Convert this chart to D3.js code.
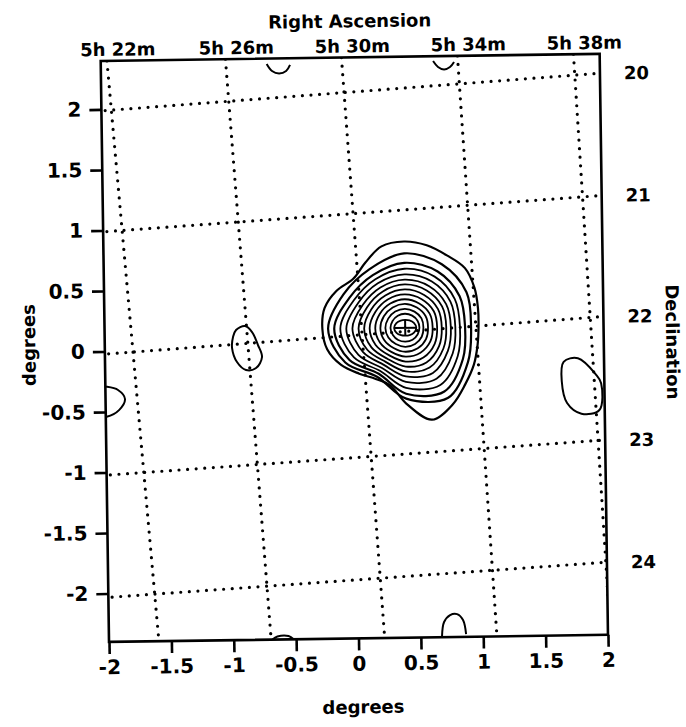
<!DOCTYPE html>
<html>
<head>
<meta charset="utf-8">
<script src="https://cdn.jsdelivr.net/npm/d3@7"></script>
<style>
body { margin: 0; background: #fff; }
text { font-family: "DejaVu Sans", sans-serif; font-weight: bold; fill: #000; }
</style>
</head>
<body>
<svg id="chart"></svg>
<script>
// axis ticks (degrees)
var xTicks = [-2, -1.5, -1, -0.5, 0, 0.5, 1, 1.5, 2];
var yTicks = [-2, -1.5, -1, -0.5, 0, 0.5, 1, 1.5, 2];

// right ascension grid: x in degrees where each line meets top / bottom of frame
var raLabels = ["5h 22m", "5h 26m", "5h 30m", "5h 34m", "5h 38m"];
var raTop = [-1.95, -1.00, -0.07, 0.86, 1.79];
var raBottom = [-1.60, -0.70, 0.21, 1.11, 2.02];

// declination grid: y in degrees where each line meets left / right of frame
var decLabels = ["20", "21", "22", "23", "24"];
var decLeft = [1.99, 0.99, -0.02, -1.02, -2.03];
var decRight = [2.24, 1.23, 0.23, -0.79, -1.80];

// source peak and its nested contours, radius in degrees read counterclockwise from east
var peak = [0.41, 0.16];
var rings = [
  [.089, .081, .070, .065, .070, .081, .089, .081, .070, .065, .070, .081],
  [.114, .115, .115, .116, .116, .116, .118, .115, .115, .114, .115, .114],
  [.146, .152, .153, .157, .156, .156, .159, .157, .154, .157, .155, .152],
  [.183, .190, .192, .198, .196, .196, .199, .196, .191, .198, .197, .191],
  [.220, .228, .230, .236, .233, .234, .240, .236, .228, .238, .239, .231],
  [.256, .267, .271, .276, .273, .273, .285, .276, .261, .279, .285, .271],
  [.293, .305, .311, .317, .311, .312, .329, .315, .293, .320, .333, .311],
  [.329, .344, .353, .358, .350, .350, .374, .354, .322, .360, .382, .351],
  [.366, .382, .394, .398, .388, .389, .423, .393, .351, .401, .434, .392],
  [.402, .422, .438, .441, .428, .429, .472, .436, .381, .447, .490, .436],
  [.439, .463, .484, .488, .467, .470, .520, .478, .409, .496, .550, .482],
  [.480, .508, .533, .537, .507, .511, .569, .520, .435, .545, .613, .530],
  [.528, .572, .601, .615, .563, .567, .618, .559, .463, .585, .673, .577],
  [.588, .606, .646, .687, .685, .703, .713, .699, .626, .581, .630, .667,
   .664, .650, .598, .528, .484, .490, .626, .789, .740, .671, .630, .598]
];

// small contours elsewhere in the field (x, y in degrees)
var blobs = [
  {closed: true, pts: [[-0.946, 0.162], [-0.874, 0.193], [-0.818, 0.143], [-0.772, 0.035], [-0.741, -0.064],
                       [-0.790, -0.155], [-0.871, -0.170], [-0.942, -0.103], [-0.980, 0.013], [-0.971, 0.104]]},
  {closed: true, pts: [[-2.05, -0.29], [-1.989, -0.292], [-1.899, -0.320], [-1.844, -0.395], [-1.893, -0.486],
                       [-1.993, -0.540], [-2.05, -0.54]]},
  {closed: true, pts: [[1.676, -0.140], [1.791, -0.112], [1.932, -0.247], [1.974, -0.321], [1.957, -0.542],
                       [1.813, -0.570], [1.699, -0.480], [1.659, -0.302]]},
  {closed: false, pts: [[-0.670, 2.356], [-0.628, 2.297], [-0.572, 2.276], [-0.515, 2.295], [-0.483, 2.345]]},
  {closed: false, pts: [[0.664, 2.361], [0.703, 2.311], [0.751, 2.289], [0.799, 2.309], [0.832, 2.350]]},
  {closed: false, pts: [[0.670, -2.391], [0.688, -2.275], [0.737, -2.218], [0.793, -2.211], [0.840, -2.261], [0.863, -2.377]]},
  {closed: false, pts: [[-0.69, -2.40], [-0.65, -2.375], [-0.56, -2.372], [-0.52, -2.40]]}
];

// layout
var svgWidth = 686, svgHeight = 727;
var frameX = 100.7, frameY = 61, frameW = 499, frameH = 581;
var tilt = -0.82;   // the scanned page sits slightly askew

var xScale = d3.scaleLinear().domain([-2, 2]).range([0, frameW]);
var yScale = d3.scaleLinear().domain([-2.4, 2.4]).range([frameH, 0]);

var svg = d3.select("#chart")
    .attr("width", svgWidth)
    .attr("height", svgHeight);

var plot = svg.append("g")
    .attr("transform", "translate(" + frameX + "," + frameY + ") rotate(" + tilt + ")");

plot.append("clipPath").attr("id", "frame")
  .append("rect").attr("width", frameW).attr("height", frameH);

var inside = plot.append("g").attr("clip-path", "url(#frame)");

var line = d3.line().x(function (d) { return xScale(d[0]); }).y(function (d) { return yScale(d[1]); });
var smooth = d3.line().x(function (d) { return xScale(d[0]); }).y(function (d) { return yScale(d[1]); })
    .curve(d3.curveCatmullRom);
var smoothClosed = d3.line().x(function (d) { return xScale(d[0]); }).y(function (d) { return yScale(d[1]); })
    .curve(d3.curveCatmullRomClosed);

// dotted coordinate grid
var dotted = function (sel) {
  sel.attr("fill", "none").attr("stroke", "#000").attr("stroke-width", 3.2)
     .attr("stroke-linecap", "round").attr("stroke-dasharray", "0,8.6");
};

inside.selectAll("path.ra")
    .data(raTop)
    .enter()
    .append("path")
    .attr("class", "ra")
    .attr("d", function (d, i) { return line([[d, 2.4], [raBottom[i], -2.4]]); })
    .call(dotted);

inside.selectAll("path.dec")
    .data(decLeft)
    .enter()
    .append("path")
    .attr("class", "dec")
    .attr("d", function (d, i) { return line([[-1.97, d], [2, decRight[i]]]); })
    .call(dotted);

// contours of the source
inside.selectAll("path.ring")
    .data(rings)
    .enter()
    .append("path")
    .attr("class", "ring")
    .attr("d", function (r) {
      var n = r.length;
      return smoothClosed(r.map(function (rad, j) {
        var a = j * 2 * Math.PI / n;
        return [peak[0] + rad * Math.cos(a), peak[1] + rad * Math.sin(a)];
      }));
    })
    .attr("fill", "none")
    .attr("stroke", "#000")
    .attr("stroke-width", function (r, i) { return i > 10 ? 2.2 : 1.8; });

// cross at the peak
var r0 = rings[0];
inside.append("path")
    .attr("d", line([[peak[0] - r0[0], peak[1]], [peak[0] + r0[6], peak[1]]]) +
               line([[peak[0], peak[1] + r0[3]], [peak[0], peak[1] - r0[9]]]))
    .attr("stroke", "#000")
    .attr("stroke-width", 2);

inside.selectAll("path.blob")
    .data(blobs)
    .enter()
    .append("path")
    .attr("class", "blob")
    .attr("d", function (b) { return b.closed ? smoothClosed(b.pts) : smooth(b.pts); })
    .attr("fill", "none")
    .attr("stroke", "#000")
    .attr("stroke-width", 2);

// frame
plot.append("rect")
    .attr("width", frameW)
    .attr("height", frameH)
    .attr("fill", "none")
    .attr("stroke", "#000")
    .attr("stroke-width", 2.6);

// degree axes
var fmt = function (d) { return String(d); };

var yAxis = plot.append("g")
    .call(d3.axisLeft(yScale).tickValues(yTicks).tickSize(12).tickPadding(8).tickFormat(fmt));
var xAxis = plot.append("g")
    .attr("transform", "translate(0," + frameH + ")")
    .call(d3.axisBottom(xScale).tickValues(xTicks).tickSize(12).tickPadding(6).tickFormat(fmt));

[xAxis, yAxis].forEach(function (ax) {
  ax.select(".domain").remove();
  ax.selectAll("line").attr("stroke-width", 2.6);
  ax.selectAll("text").style("font-size", "20px");
});

// right ascension labels along the top
plot.selectAll("text.ra")
    .data(raLabels)
    .enter()
    .append("text")
    .attr("class", "ra")
    .attr("x", function (d, i) { return xScale(raTop[i]) + 11; })
    .attr("y", -5)
    .attr("text-anchor", "middle")
    .style("font-size", "18px")
    .text(function (d) { return d; });

plot.append("text")
    .attr("x", frameW / 2)
    .attr("y", -30)
    .attr("text-anchor", "middle")
    .style("font-size", "18px")
    .text("Right Ascension");

// declination labels on the right
plot.selectAll("text.dec")
    .data(decLabels)
    .enter()
    .append("text")
    .attr("class", "dec")
    .attr("x", frameW + 24)
    .attr("y", function (d, i) { return yScale(decRight[i]); })
    .attr("dy", "0.36em")
    .style("font-size", "18px")
    .text(function (d) { return d; });

plot.append("text")
    .attr("transform", "translate(" + (frameW + 69) + "," + 289 + ") rotate(90)")
    .attr("text-anchor", "middle")
    .attr("dy", "0.36em")
    .style("font-size", "18px")
    .text("Declination");

plot.append("text")
    .attr("transform", "translate(-76," + 283 + ") rotate(-90)")
    .attr("text-anchor", "middle")
    .attr("dy", "0.36em")
    .style("font-size", "18px")
    .text("degrees");

plot.append("text")
    .attr("x", frameW / 2 + 4)
    .attr("y", frameH + 75)
    .attr("text-anchor", "middle")
    .style("font-size", "18px")
    .text("degrees");
</script>
</body>
</html>
